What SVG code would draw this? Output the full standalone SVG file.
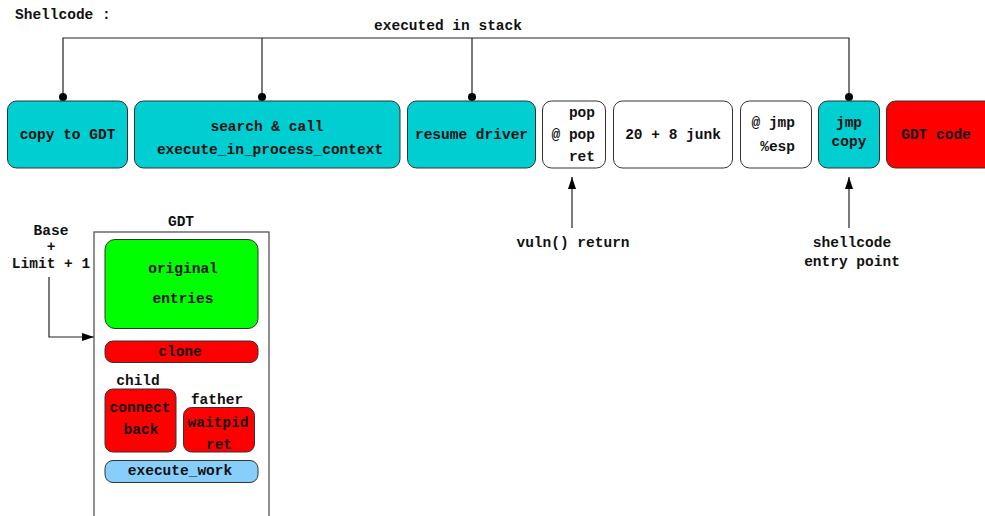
<svg xmlns="http://www.w3.org/2000/svg" width="985" height="516" viewBox="0 0 985 516">
  <defs>
    <style>
      text { font-family: "Liberation Mono", "Courier New", monospace; font-weight: bold; font-size: 14.5px; fill: #111; }
      .c { text-anchor: middle; }
      .e { text-anchor: end; }
      .box { stroke: #333; stroke-width: 1; }
      .teal { fill: #00CED1; }
      .white { fill: #FFFFFF; }
      .red { fill: #FF0000; }
      .green { fill: #00FF00; }
      .blue { fill: #87CEFA; }
      .wire { fill: none; stroke: #222; stroke-width: 1.2; }
      .dot { fill: #000; }
    </style>
    <marker id="arrow" viewBox="0 0 12 8" refX="12" refY="4" markerWidth="12" markerHeight="8" markerUnits="userSpaceOnUse" orient="auto">
      <path d="M0,0 L12,4 L0,8 Z" fill="#000"/>
    </marker>
  </defs>

  <rect width="985" height="516" fill="#FFFFFF"/>

  <text x="15" y="19">Shellcode :</text>
  <text class="c" x="448" y="30">executed in stack</text>

  <!-- connectors -->
  <g id="connectors">
    <path class="wire" d="M63,97 V38 H849 V97"/>
    <path class="wire" d="M262,38 V97"/>
    <path class="wire" d="M472,38 V97"/>
    <circle class="dot" cx="63" cy="97" r="4"/>
    <circle class="dot" cx="262" cy="97" r="4"/>
    <circle class="dot" cx="472" cy="97" r="4"/>
    <circle class="dot" cx="849" cy="97" r="4"/>
    <path class="wire" d="M572,228 V177" marker-end="url(#arrow)"/>
    <path class="wire" d="M849,228 V177" marker-end="url(#arrow)"/>
    <path class="wire" d="M49,277 V337 H94" marker-end="url(#arrow)"/>
  </g>

  <!-- stack layout -->
  <g id="copy-to-gdt">
    <rect class="box teal" x="7.5" y="101" width="120" height="67" rx="9"/>
    <text class="c" x="67.5" y="139">copy to GDT</text>
  </g>
  <g id="search-call">
    <rect class="box teal" x="134.5" y="101" width="265.5" height="67" rx="9"/>
    <text class="c" x="267" y="131">search &amp; call</text>
    <text class="c" x="270" y="154">execute_in_process_context</text>
  </g>
  <g id="resume-driver">
    <rect class="box teal" x="407.5" y="101" width="128" height="67" rx="9"/>
    <text class="c" x="471.5" y="139">resume driver</text>
  </g>
  <g id="pop-pop-ret">
    <rect class="box white" x="542.5" y="101" width="63" height="67" rx="9"/>
    <text class="e" x="595" y="117">pop</text>
    <text class="e" x="595" y="139">@ pop</text>
    <text class="e" x="595" y="161">ret</text>
  </g>
  <g id="junk">
    <rect class="box white" x="613.5" y="101" width="119" height="67" rx="9"/>
    <text class="c" x="673" y="139">20 + 8 junk</text>
  </g>
  <g id="jmp-esp">
    <rect class="box white" x="740.5" y="101" width="71" height="67" rx="9"/>
    <text class="e" x="795" y="127">@ jmp</text>
    <text class="e" x="795" y="151">%esp</text>
  </g>
  <g id="jmp-copy">
    <rect class="box teal" x="818.5" y="101" width="61" height="67" rx="9"/>
    <text class="c" x="849" y="127">jmp</text>
    <text class="c" x="849" y="146">copy</text>
  </g>
  <g id="gdt-code">
    <rect class="box red" x="886.5" y="101" width="108" height="67" rx="9"/>
    <text class="c" x="936" y="139">GDT code</text>
  </g>

  <text class="c" x="573" y="247">vuln() return</text>
  <text class="c" x="852" y="247">shellcode</text>
  <text class="c" x="852" y="266">entry point</text>

  <!-- GDT table -->
  <text class="c" x="51" y="235">Base</text>
  <text class="c" x="51" y="251">+</text>
  <text class="c" x="51" y="268">Limit + 1</text>
  <text class="c" x="181" y="226">GDT</text>

  <g id="gdt">
    <rect x="94" y="232" width="175" height="300" fill="#FFFFFF" stroke="#555" stroke-width="1.3"/>
  </g>
  <g id="original-entries">
    <rect class="box green" x="105" y="239.5" width="153" height="89" rx="10"/>
    <text class="c" x="183" y="273">original</text>
    <text class="c" x="183" y="303">entries</text>
  </g>
  <g id="clone">
    <rect class="box red" x="105" y="341" width="153" height="21.5" rx="8"/>
    <text class="c" x="180" y="356">clone</text>
  </g>
  <text class="c" x="138" y="385">child</text>
  <g id="connect-back">
    <rect class="box red" x="105" y="389" width="71" height="63" rx="8"/>
    <text class="c" x="140" y="412">connect</text>
    <text class="c" x="141" y="434">back</text>
  </g>
  <text class="c" x="217" y="404">father</text>
  <g id="waitpid-ret">
    <rect class="box red" x="183.5" y="407.5" width="71" height="44.5" rx="8"/>
    <text class="c" x="218" y="427">waitpid</text>
    <text class="c" x="219" y="449">ret</text>
  </g>
  <g id="execute-work">
    <rect class="box blue" x="105" y="460.5" width="153" height="22" rx="8"/>
    <text class="c" x="180" y="475">execute_work</text>
  </g>
</svg>
